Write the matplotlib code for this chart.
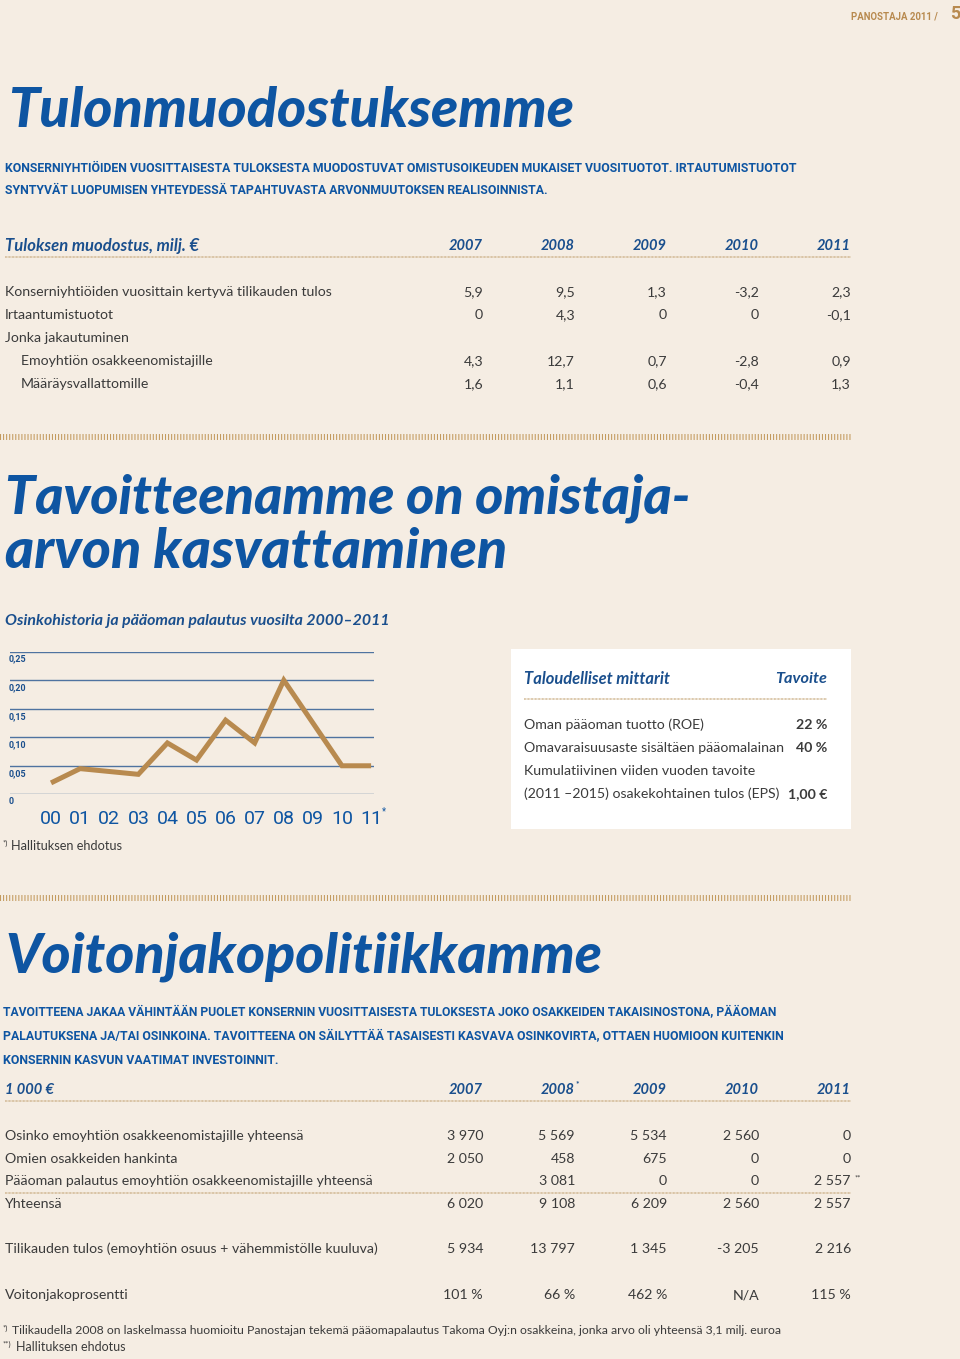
"""
Panostaja 2011 annual report, page 5: profit formation, dividend history, dividend policy.
"""
import matplotlib
matplotlib.use('Agg')
import matplotlib.pyplot as plt
from matplotlib.lines import Line2D
from matplotlib.patches import Rectangle
from matplotlib import transforms

plt.rcParams['lines.scale_dashes'] = False

W, H = 960, 1359
BG = '#f5ede3'
BLUE = '#0e55a2'
DARKBLUE = '#1a4f8d'
TEXT = '#3b3b3b'
GOLD = '#b88a4f'
STRIPE = '#c39a5e'

BODY = ['Lato', 'DejaVu Sans']
HEAVY = ['Lato', 'DejaVu Sans']
COND = ['Roboto', 'DejaVu Sans']

# ---- data ----
t1_years = ['2007', '2008', '2009', '2010', '2011']
t1_labels = ['Konserniyhtiöiden vuosittain kertyvä tilikauden tulos', 'Irtaantumistuotot',
             'Jonka jakautuminen', 'Emoyhtiön osakkeenomistajille', 'Määräysvallattomille']
t1_indent = [0, 0, 0, 1, 1]
t1_values = [['5,9', '9,5', '1,3', '-3,2', '2,3'],
             ['0', '4,3', '0', '0', '-0,1'],
             ['', '', '', '', ''],
             ['4,3', '12,7', '0,7', '-2,8', '0,9'],
             ['1,6', '1,1', '0,6', '-0,4', '1,3']]

div_years = ['00', '01', '02', '03', '04', '05', '06', '07', '08', '09', '10', '11']
div_eur = [0.02, 0.045, 0.04, 0.035, 0.09, 0.06, 0.13, 0.09, 0.20, 0.125, 0.05, 0.05]
div_ticks = [0, 0.05, 0.10, 0.15, 0.20, 0.25]
div_ticklabels = ['0', '0,05', '0,10', '0,15', '0,20', '0,25']

goal_labels = ['Oman pääoman tuotto (ROE)', 'Omavaraisuusaste sisältäen pääomalainan',
               'Kumulatiivinen viiden vuoden tavoite', '(2011 –2015) osakekohtainen tulos (EPS)']
goal_values = ['22 %', '40 %', '', '1,00 €']

t2_years = ['2007', '2008', '2009', '2010', '2011']
t2_labels = ['Osinko emoyhtiön osakkeenomistajille yhteensä', 'Omien osakkeiden hankinta',
             'Pääoman palautus emoyhtiön osakkeenomistajille yhteensä', 'Yhteensä',
             'Tilikauden tulos (emoyhtiön osuus + vähemmistölle kuuluva)', 'Voitonjakoprosentti']
t2_values = [['3 970', '5 569', '5 534', '2 560', '0'],
             ['2 050', '458', '675', '0', '0'],
             ['', '3 081', '0', '0', '2 557'],
             ['6 020', '9 108', '6 209', '2 560', '2 557'],
             ['5 934', '13 797', '1 345', '-3 205', '2 216'],
             ['101 %', '66 %', '462 %', 'N/A', '115 %']]

fig = plt.figure(figsize=(W / 100, H / 100), dpi=100, facecolor=BG)
renderer = fig.canvas.get_renderer()


def put(x, y, s, width=None, **kw):
    kw.setdefault('va', 'center')
    kw.setdefault('family', BODY)
    kw.setdefault('color', TEXT)
    t = fig.text(x / W, 1 - y / H, s, **kw)
    if width:
        # scale the font so the text spans the same width as in the page
        w = t.get_window_extent(renderer).width
        t.set_fontsize(t.get_fontsize() * width / w)
    return t


def hline(x0, x1, y, **kw):
    fig.add_artist(Line2D([x0 / W, x1 / W], [1 - y / H, 1 - y / H],
                          transform=fig.transFigure, **kw))


def stripes(y):
    hline(0, 851, y, color=STRIPE, lw=4.3, dashes=(0.75, 1.45), dash_capstyle='butt')


def dots(x0, x1, y):
    hline(x0, x1, y, color='#cdb28a', lw=1.4, dashes=(0.5, 0.5), dash_capstyle='butt')


col_x = [483, 575, 667, 759, 851]
caps = dict(family=COND, fontweight='bold', color=BLUE, fontsize=10)
head = dict(fontsize=10.5, fontweight='bold', style='italic', color=DARKBLUE)
big = dict(family=HEAVY, fontsize=40, fontweight='black', style='italic', color=BLUE)

# header
put(938, 16, 'PANOSTAJA 2011 /', width=87, family=COND, fontsize=9, fontweight='bold',
    color=GOLD, ha='right')
put(960, 14, '5', family=COND, fontsize=13, fontweight='bold', color=GOLD, ha='right')

# section 1
put(8, 111, 'Tulonmuodostuksemme', width=565, **big)
put(5, 168, 'KONSERNIYHTIÖIDEN VUOSITTAISESTA TULOKSESTA MUODOSTUVAT OMISTUSOIKEUDEN '
    'MUKAISET VUOSITUOTOT. IRTAUTUMISTUOTOT', width=792, **caps)
put(5, 191, 'SYNTYVÄT LUOPUMISEN YHTEYDESSÄ TAPAHTUVASTA ARVONMUUTOKSEN REALISOINNISTA.',
    width=541, **caps)

put(5, 246, 'Tuloksen muodostus, milj. €', width=194, **head)
for x, yr in zip(col_x, t1_years):
    put(x, 246, yr, ha='right', **head)
dots(5, 851, 257)

t1_y = [292, 315, 338, 361, 384]
for y, lab, ind, vals in zip(t1_y, t1_labels, t1_indent, t1_values):
    put(5 + 16 * ind, y, lab, fontsize=10.2)
    for x, v in zip(col_x, vals):
        put(x, y, v, fontsize=10.2, ha='right')

stripes(437)

# section 2
put(5, 498, 'Tavoitteenamme on omistaja-', width=685, **big)
put(5, 552, 'arvon kasvattaminen', width=502, **big)
put(5, 621, 'Osinkohistoria ja pääoman palautus vuosilta 2000–2011', width=386, **head)

# dividend line chart
ax = fig.add_axes([10 / W, 1 - 794.3 / H, 364 / W, 142.6 / H])
ax.set_facecolor('none')
ax.set_xlim(-1.41, 11.1)
ax.set_ylim(0, 0.25)
for v in div_ticks:
    ax.axhline(v, color='#4f73a0', lw=1.0, zorder=1)
ax.plot(range(len(div_years)), div_eur, color=GOLD, lw=3.6, solid_joinstyle='miter',
        solid_capstyle='butt', zorder=3, clip_on=False)
ax.set_yticks([])
ax.set_xticks(range(len(div_years)), div_years, family=COND, fontsize=14, color=BLUE)
ax.tick_params(axis='x', length=0, pad=11)
for s in ax.spines.values():
    s.set_visible(False)
lbl_tr = transforms.offset_copy(transforms.blended_transform_factory(ax.transAxes, ax.transData),
                                fig=fig, x=0, y=-3, units='dots')
for v, lab in zip(div_ticks, div_ticklabels):
    ax.text(-0.005, v, lab, transform=lbl_tr, va='top', ha='left', family=COND,
            fontsize=6.5, fontweight='bold', color=DARKBLUE)
put(382, 811, '*', family=COND, fontsize=7, color=BLUE, ha='left')
put(3, 843, '*)', fontsize=5.5)
put(11, 846, 'Hallituksen ehdotus', fontsize=9.2)

# goals box
fig.add_artist(Rectangle((511 / W, 1 - 829 / H), 340 / W, 180 / H, transform=fig.transFigure,
                         facecolor='white', edgecolor='none'))
put(524, 679, 'Taloudelliset mittarit', width=147, **head)
put(827, 679, 'Tavoite', width=52, ha='right', **head)
dots(524, 827, 699)
for y, lab, val in zip([725, 748, 771, 794], goal_labels, goal_values):
    put(524, y, lab, fontsize=10.2)
    put(827, y, val, fontsize=10.2, fontweight='bold', ha='right')

stripes(898)

# section 3
put(5, 957, 'Voitonjakopolitiikkamme', width=596, **big)
para = ['TAVOITTEENA JAKAA VÄHINTÄÄN PUOLET KONSERNIN VUOSITTAISESTA TULOKSESTA JOKO '
        'OSAKKEIDEN TAKAISINOSTONA, PÄÄOMAN',
        'PALAUTUKSENA JA/TAI OSINKOINA. TAVOITTEENA ON SÄILYTTÄÄ TASAISESTI KASVAVA '
        'OSINKOVIRTA, OTTAEN HUOMIOON KUITENKIN',
        'KONSERNIN KASVUN VAATIMAT INVESTOINNIT.']
for y, line, wd in zip([1013, 1037, 1061], para, [778, 780, 275]):
    put(3, y, line, width=wd, **caps)

put(5, 1090, '1 000 €', **head)
for x, yr in zip(col_x, t2_years):
    put(x, 1090, yr, ha='right', **head)
put(576, 1084, '*', fontsize=6, fontweight='bold', color=DARKBLUE)
dots(5, 851, 1101)

t2_y = [1136, 1159, 1181, 1204, 1249, 1295]
for y, lab, vals in zip(t2_y, t2_labels, t2_values):
    put(5, y, lab, fontsize=10.2)
    for x, v in zip(col_x, vals):
        put(x, y, v, fontsize=10.2, ha='right')
put(855, 1178, '**', fontsize=5.5)
dots(5, 851, 1193)

put(3, 1328, '*)', fontsize=5.5)
put(12, 1331, 'Tilikaudella 2008 on laskelmassa huomioitu Panostajan tekemä pääomapalautus '
    'Takoma Oyj:n osakkeina, jonka arvo oli yhteensä 3,1 milj. euroa', width=778, fontsize=9)
put(3, 1344, '**)', fontsize=5.5)
put(16, 1347, 'Hallituksen ehdotus', fontsize=9)

fig.savefig('out.png', dpi=100, facecolor=BG)
